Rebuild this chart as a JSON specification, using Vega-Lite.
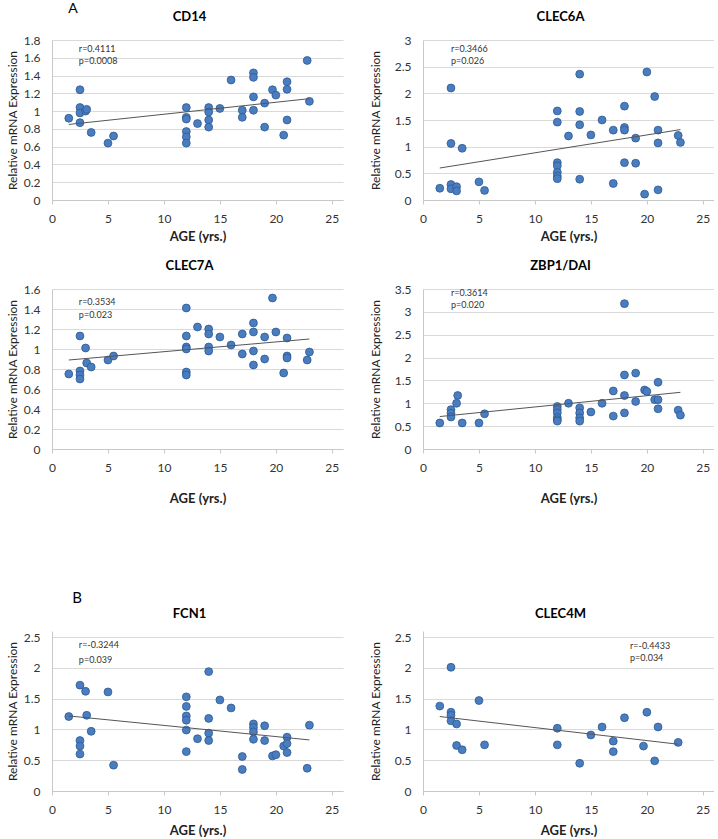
{
  "$schema": "https://vega.github.io/schema/vega-lite/v6.json",
  "padding": {"left": 6, "top": 2, "right": 0, "bottom": 0},
  "background": "white",
  "datasets": {
    "pts": [
      {"gene":"CD14","age":1.5,"expr":0.92},{"gene":"CD14","age":2.5,"expr":1.24},{"gene":"CD14","age":2.5,"expr":1.04},{"gene":"CD14","age":2.5,"expr":0.98},{"gene":"CD14","age":2.5,"expr":0.87},{"gene":"CD14","age":3,"expr":1.0},{"gene":"CD14","age":3.1,"expr":1.02},{"gene":"CD14","age":3.5,"expr":0.76},{"gene":"CD14","age":5,"expr":0.64},{"gene":"CD14","age":5.5,"expr":0.72},
      {"gene":"CD14","age":12,"expr":1.04},{"gene":"CD14","age":12,"expr":0.93},{"gene":"CD14","age":12,"expr":0.91},{"gene":"CD14","age":12,"expr":0.77},{"gene":"CD14","age":12,"expr":0.71},{"gene":"CD14","age":12,"expr":0.64},{"gene":"CD14","age":13,"expr":0.86},{"gene":"CD14","age":14,"expr":1.04},{"gene":"CD14","age":14,"expr":0.99},{"gene":"CD14","age":14,"expr":0.9},{"gene":"CD14","age":14,"expr":0.82},{"gene":"CD14","age":15,"expr":1.03},{"gene":"CD14","age":16,"expr":1.35},{"gene":"CD14","age":17,"expr":1.01},{"gene":"CD14","age":17,"expr":0.93},{"gene":"CD14","age":18,"expr":1.43},{"gene":"CD14","age":18,"expr":1.38},{"gene":"CD14","age":18,"expr":1.16},{"gene":"CD14","age":18,"expr":1.01},{"gene":"CD14","age":19,"expr":1.09},{"gene":"CD14","age":19,"expr":0.82},{"gene":"CD14","age":19.7,"expr":1.24},{"gene":"CD14","age":20,"expr":1.18},{"gene":"CD14","age":20.7,"expr":0.73},{"gene":"CD14","age":21,"expr":1.33},{"gene":"CD14","age":21,"expr":1.245},{"gene":"CD14","age":21,"expr":0.9},{"gene":"CD14","age":22.8,"expr":1.57},{"gene":"CD14","age":23,"expr":1.11},

      {"gene":"CLEC6A","age":1.5,"expr":0.22},{"gene":"CLEC6A","age":2.5,"expr":2.1},{"gene":"CLEC6A","age":2.5,"expr":1.06},{"gene":"CLEC6A","age":2.5,"expr":0.29},{"gene":"CLEC6A","age":2.5,"expr":0.21},{"gene":"CLEC6A","age":3,"expr":0.25},{"gene":"CLEC6A","age":3,"expr":0.17},{"gene":"CLEC6A","age":3.5,"expr":0.97},{"gene":"CLEC6A","age":5,"expr":0.34},{"gene":"CLEC6A","age":5.5,"expr":0.18},
      {"gene":"CLEC6A","age":12,"expr":1.67},{"gene":"CLEC6A","age":12,"expr":1.46},{"gene":"CLEC6A","age":12,"expr":0.7},{"gene":"CLEC6A","age":12,"expr":0.64},{"gene":"CLEC6A","age":12,"expr":0.52},{"gene":"CLEC6A","age":12,"expr":0.45},{"gene":"CLEC6A","age":12,"expr":0.4},{"gene":"CLEC6A","age":13,"expr":1.2},{"gene":"CLEC6A","age":14,"expr":2.36},{"gene":"CLEC6A","age":14,"expr":1.66},{"gene":"CLEC6A","age":14,"expr":1.41},{"gene":"CLEC6A","age":14,"expr":0.39},{"gene":"CLEC6A","age":15,"expr":1.22},{"gene":"CLEC6A","age":16,"expr":1.5},{"gene":"CLEC6A","age":17,"expr":1.31},{"gene":"CLEC6A","age":17,"expr":0.31},{"gene":"CLEC6A","age":18,"expr":1.76},{"gene":"CLEC6A","age":18,"expr":1.36},{"gene":"CLEC6A","age":18,"expr":1.31},{"gene":"CLEC6A","age":18,"expr":0.7},{"gene":"CLEC6A","age":19,"expr":1.16},{"gene":"CLEC6A","age":19,"expr":0.69},{"gene":"CLEC6A","age":19.8,"expr":0.11},{"gene":"CLEC6A","age":20,"expr":2.4},{"gene":"CLEC6A","age":20.7,"expr":1.94},{"gene":"CLEC6A","age":21,"expr":1.31},{"gene":"CLEC6A","age":21,"expr":1.07},{"gene":"CLEC6A","age":21,"expr":0.19},{"gene":"CLEC6A","age":22.8,"expr":1.21},{"gene":"CLEC6A","age":23,"expr":1.08},

      {"gene":"CLEC7A","age":1.5,"expr":0.75},{"gene":"CLEC7A","age":2.5,"expr":1.13},{"gene":"CLEC7A","age":2.5,"expr":0.78},{"gene":"CLEC7A","age":2.5,"expr":0.74},{"gene":"CLEC7A","age":2.5,"expr":0.7},{"gene":"CLEC7A","age":3,"expr":1.01},{"gene":"CLEC7A","age":3.1,"expr":0.86},{"gene":"CLEC7A","age":3.5,"expr":0.82},{"gene":"CLEC7A","age":5,"expr":0.89},{"gene":"CLEC7A","age":5.5,"expr":0.93},
      {"gene":"CLEC7A","age":12,"expr":1.41},{"gene":"CLEC7A","age":12,"expr":1.13},{"gene":"CLEC7A","age":12,"expr":1.02},{"gene":"CLEC7A","age":12,"expr":1.0},{"gene":"CLEC7A","age":12,"expr":0.77},{"gene":"CLEC7A","age":12,"expr":0.74},{"gene":"CLEC7A","age":13,"expr":1.22},{"gene":"CLEC7A","age":14,"expr":1.2},{"gene":"CLEC7A","age":14,"expr":1.15},{"gene":"CLEC7A","age":14,"expr":1.02},{"gene":"CLEC7A","age":14,"expr":0.98},{"gene":"CLEC7A","age":15,"expr":1.12},{"gene":"CLEC7A","age":16,"expr":1.04},{"gene":"CLEC7A","age":17,"expr":1.15},{"gene":"CLEC7A","age":17,"expr":0.95},{"gene":"CLEC7A","age":18,"expr":1.26},{"gene":"CLEC7A","age":18,"expr":1.17},{"gene":"CLEC7A","age":18,"expr":0.98},{"gene":"CLEC7A","age":18,"expr":0.84},{"gene":"CLEC7A","age":19,"expr":1.12},{"gene":"CLEC7A","age":19,"expr":0.9},{"gene":"CLEC7A","age":19.7,"expr":1.51},{"gene":"CLEC7A","age":20,"expr":1.17},{"gene":"CLEC7A","age":20.7,"expr":0.76},{"gene":"CLEC7A","age":21,"expr":1.11},{"gene":"CLEC7A","age":21,"expr":0.93},{"gene":"CLEC7A","age":21,"expr":0.91},{"gene":"CLEC7A","age":22.8,"expr":0.89},{"gene":"CLEC7A","age":23,"expr":0.97},

      {"gene":"ZBP1/DAI","age":1.5,"expr":0.57},{"gene":"ZBP1/DAI","age":2.5,"expr":0.86},{"gene":"ZBP1/DAI","age":2.5,"expr":0.78},{"gene":"ZBP1/DAI","age":2.5,"expr":0.7},{"gene":"ZBP1/DAI","age":3,"expr":1.0},{"gene":"ZBP1/DAI","age":3.1,"expr":1.17},{"gene":"ZBP1/DAI","age":3.5,"expr":0.57},{"gene":"ZBP1/DAI","age":5,"expr":0.57},{"gene":"ZBP1/DAI","age":5.5,"expr":0.77},
      {"gene":"ZBP1/DAI","age":12,"expr":0.93},{"gene":"ZBP1/DAI","age":12,"expr":0.86},{"gene":"ZBP1/DAI","age":12,"expr":0.79},{"gene":"ZBP1/DAI","age":12,"expr":0.69},{"gene":"ZBP1/DAI","age":12,"expr":0.64},{"gene":"ZBP1/DAI","age":12,"expr":0.61},{"gene":"ZBP1/DAI","age":13,"expr":1.0},{"gene":"ZBP1/DAI","age":14,"expr":0.9},{"gene":"ZBP1/DAI","age":14,"expr":0.79},{"gene":"ZBP1/DAI","age":14,"expr":0.68},{"gene":"ZBP1/DAI","age":14,"expr":0.61},{"gene":"ZBP1/DAI","age":15,"expr":0.81},{"gene":"ZBP1/DAI","age":16,"expr":1.0},{"gene":"ZBP1/DAI","age":17,"expr":1.27},{"gene":"ZBP1/DAI","age":17,"expr":0.72},{"gene":"ZBP1/DAI","age":18,"expr":3.18},{"gene":"ZBP1/DAI","age":18,"expr":1.62},{"gene":"ZBP1/DAI","age":18,"expr":1.17},{"gene":"ZBP1/DAI","age":18,"expr":0.79},{"gene":"ZBP1/DAI","age":19,"expr":1.66},{"gene":"ZBP1/DAI","age":19,"expr":1.04},{"gene":"ZBP1/DAI","age":19.8,"expr":1.29},{"gene":"ZBP1/DAI","age":20,"expr":1.26},{"gene":"ZBP1/DAI","age":20.7,"expr":1.08},{"gene":"ZBP1/DAI","age":21,"expr":1.46},{"gene":"ZBP1/DAI","age":21,"expr":1.08},{"gene":"ZBP1/DAI","age":21,"expr":0.88},{"gene":"ZBP1/DAI","age":22.8,"expr":0.85},{"gene":"ZBP1/DAI","age":23,"expr":0.74},

      {"gene":"FCN1","age":1.5,"expr":1.21},{"gene":"FCN1","age":2.5,"expr":1.72},{"gene":"FCN1","age":2.5,"expr":0.82},{"gene":"FCN1","age":2.5,"expr":0.73},{"gene":"FCN1","age":2.5,"expr":0.6},{"gene":"FCN1","age":3,"expr":1.62},{"gene":"FCN1","age":3.1,"expr":1.23},{"gene":"FCN1","age":3.5,"expr":0.97},{"gene":"FCN1","age":5,"expr":1.61},{"gene":"FCN1","age":5.5,"expr":0.42},
      {"gene":"FCN1","age":12,"expr":1.53},{"gene":"FCN1","age":12,"expr":1.375},{"gene":"FCN1","age":12,"expr":1.22},{"gene":"FCN1","age":12,"expr":1.15},{"gene":"FCN1","age":12,"expr":0.99},{"gene":"FCN1","age":12,"expr":0.64},{"gene":"FCN1","age":13,"expr":0.85},{"gene":"FCN1","age":14,"expr":1.94},{"gene":"FCN1","age":14,"expr":1.18},{"gene":"FCN1","age":14,"expr":0.94},{"gene":"FCN1","age":14,"expr":0.82},{"gene":"FCN1","age":15,"expr":1.48},{"gene":"FCN1","age":16,"expr":1.35},{"gene":"FCN1","age":17,"expr":0.56},{"gene":"FCN1","age":17,"expr":0.35},{"gene":"FCN1","age":18,"expr":1.09},{"gene":"FCN1","age":18,"expr":1.03},{"gene":"FCN1","age":18,"expr":0.96},{"gene":"FCN1","age":18,"expr":0.84},{"gene":"FCN1","age":19,"expr":1.06},{"gene":"FCN1","age":19,"expr":0.82},{"gene":"FCN1","age":19.7,"expr":0.57},{"gene":"FCN1","age":20,"expr":0.59},{"gene":"FCN1","age":20.7,"expr":0.73},{"gene":"FCN1","age":21,"expr":0.875},{"gene":"FCN1","age":21,"expr":0.77},{"gene":"FCN1","age":21,"expr":0.625},{"gene":"FCN1","age":22.8,"expr":0.37},{"gene":"FCN1","age":23,"expr":1.07},

      {"gene":"CLEC4M","age":1.5,"expr":1.38},{"gene":"CLEC4M","age":2.5,"expr":2.01},{"gene":"CLEC4M","age":2.5,"expr":1.28},{"gene":"CLEC4M","age":2.5,"expr":1.23},{"gene":"CLEC4M","age":2.5,"expr":1.14},{"gene":"CLEC4M","age":3,"expr":1.09},{"gene":"CLEC4M","age":3,"expr":0.74},{"gene":"CLEC4M","age":3.5,"expr":0.67},{"gene":"CLEC4M","age":5,"expr":1.47},{"gene":"CLEC4M","age":5.5,"expr":0.75},
      {"gene":"CLEC4M","age":12,"expr":1.02},{"gene":"CLEC4M","age":12,"expr":0.75},{"gene":"CLEC4M","age":14,"expr":0.45},{"gene":"CLEC4M","age":15,"expr":0.91},{"gene":"CLEC4M","age":16,"expr":1.04},{"gene":"CLEC4M","age":17,"expr":0.81},{"gene":"CLEC4M","age":17,"expr":0.64},{"gene":"CLEC4M","age":18,"expr":1.19},{"gene":"CLEC4M","age":19.7,"expr":0.73},{"gene":"CLEC4M","age":20,"expr":1.28},{"gene":"CLEC4M","age":20.7,"expr":0.49},{"gene":"CLEC4M","age":21,"expr":1.04},{"gene":"CLEC4M","age":22.8,"expr":0.79}
    ],
    "trend": [
      {"gene":"CD14","age":1.5,"expr":0.85},{"gene":"CD14","age":23,"expr":1.14},
      {"gene":"CLEC6A","age":1.5,"expr":0.6},{"gene":"CLEC6A","age":23,"expr":1.32},
      {"gene":"CLEC7A","age":1.5,"expr":0.89},{"gene":"CLEC7A","age":23,"expr":1.1},
      {"gene":"ZBP1/DAI","age":1.5,"expr":0.71},{"gene":"ZBP1/DAI","age":23,"expr":1.24},
      {"gene":"FCN1","age":1.5,"expr":1.22},{"gene":"FCN1","age":23,"expr":0.83},
      {"gene":"CLEC4M","age":1.5,"expr":1.21},{"gene":"CLEC4M","age":22.8,"expr":0.76}
    ],
    "stats": [
      {"gene":"CD14","r":"r=0.4111","p":"p=0.0008"},
      {"gene":"CLEC6A","r":"r=0.3466","p":"p=0.026"},
      {"gene":"CLEC7A","r":"r=0.3534","p":"p=0.023"},
      {"gene":"ZBP1/DAI","r":"r=0.3614","p":"p=0.020"},
      {"gene":"FCN1","r":"r=-0.3244","p":"p=0.039"},
      {"gene":"CLEC4M","r":"r=-0.4433","p":"p=0.034"}
    ]
  },
  "config": {
    "font": "Lato",
    "view": {"stroke": null},
    "axis": {"labelFont": "Lato", "labelFontSize": 12, "labelColor": "#333333", "titleFont": "Lato", "titleColor": "#222222", "gridColor": "#d9d9d9", "domainColor": "#c8c8c8", "tickColor": "#c8c8c8", "labelFlush": false, "labelOverlap": false},
    "axisX": {"grid": false, "tickSize": 4, "labelPadding": 9, "titleFontSize": 13, "titleFontWeight": "bold", "titlePadding": 6},
    "axisY": {"grid": true, "ticks": false, "labelPadding": 12, "titleFontSize": 12, "titleFontWeight": "normal", "titlePadding": 4, "tickCount": 20, "labelExpr": "'' + datum.value"},
    "title": {"fontSize": 13, "fontWeight": "bold", "font": "Lato", "color": "#000000", "offset": 10, "dx": -8}
  },
  "spacing": 86,
  "vconcat": [
    {
      "title": {"text": "A", "anchor": "start", "fontSize": 14, "fontWeight": "normal", "dx": 62, "offset": -5},
      "spacing": 17,
      "vconcat": [
        {
          "spacing": 26,
          "hconcat": [
            {
              "width": 291, "height": 160,
              "title": "CD14",
              "layer": [
                {"data": {"name": "pts"}, "transform": [{"filter": "datum.gene === 'CD14'"}], "mark": {"type": "circle", "size": 62, "fill": "#4a7cc0", "stroke": "#2c5a92", "strokeWidth": 0.8, "opacity": 1},
                 "encoding": {
                  "x": {"field": "age", "type": "quantitative", "scale": {"domain": [0, 25]}, "axis": {"title": "AGE (yrs.)", "values": [0,5,10,15,20,25]}},
                  "y": {"field": "expr", "type": "quantitative", "scale": {"domain": [0, 1.8]}, "axis": {"title": "Relative mRNA Expression", "values": [0,0.2,0.4,0.6,0.8,1,1.2,1.4,1.6,1.8]}}
                 }},
                {"data": {"name": "trend"}, "transform": [{"filter": "datum.gene === 'CD14'"}], "mark": {"type": "line", "color": "#555555", "strokeWidth": 1},
                 "encoding": {"x": {"field": "age", "type": "quantitative"}, "y": {"field": "expr", "type": "quantitative"}}},
                {"data": {"name": "stats"}, "transform": [{"filter": "datum.gene === 'CD14'"}], "mark": {"type": "text", "align": "left", "baseline": "middle", "fontSize": 9, "color": "#333333"},
                 "encoding": {"x": {"datum": 2.4}, "y": {"datum": 1.7}, "text": {"field": "r"}}},
                {"data": {"name": "stats"}, "transform": [{"filter": "datum.gene === 'CD14'"}], "mark": {"type": "text", "align": "left", "baseline": "middle", "fontSize": 9, "color": "#333333", "dy": 12},
                 "encoding": {"x": {"datum": 2.4}, "y": {"datum": 1.7}, "text": {"field": "p"}}}
              ]
            },
            {
              "width": 291, "height": 160,
              "title": "CLEC6A",
              "layer": [
                {"data": {"name": "pts"}, "transform": [{"filter": "datum.gene === 'CLEC6A'"}], "mark": {"type": "circle", "size": 62, "fill": "#4a7cc0", "stroke": "#2c5a92", "strokeWidth": 0.8, "opacity": 1},
                 "encoding": {
                  "x": {"field": "age", "type": "quantitative", "scale": {"domain": [0, 25]}, "axis": {"title": "AGE (yrs.)", "values": [0,5,10,15,20,25]}},
                  "y": {"field": "expr", "type": "quantitative", "scale": {"domain": [0, 3]}, "axis": {"title": "Relative mRNA Expression", "values": [0,0.5,1,1.5,2,2.5,3], "titlePadding": 12}}
                 }},
                {"data": {"name": "trend"}, "transform": [{"filter": "datum.gene === 'CLEC6A'"}], "mark": {"type": "line", "color": "#555555", "strokeWidth": 1},
                 "encoding": {"x": {"field": "age", "type": "quantitative"}, "y": {"field": "expr", "type": "quantitative"}}},
                {"data": {"name": "stats"}, "transform": [{"filter": "datum.gene === 'CLEC6A'"}], "mark": {"type": "text", "align": "left", "baseline": "middle", "fontSize": 9, "color": "#333333"},
                 "encoding": {"x": {"datum": 2.5}, "y": {"datum": 2.83}, "text": {"field": "r"}}},
                {"data": {"name": "stats"}, "transform": [{"filter": "datum.gene === 'CLEC6A'"}], "mark": {"type": "text", "align": "left", "baseline": "middle", "fontSize": 9, "color": "#333333", "dy": 12},
                 "encoding": {"x": {"datum": 2.5}, "y": {"datum": 2.83}, "text": {"field": "p"}}}
              ]
            }
          ]
        },
        {
          "spacing": 26,
          "hconcat": [
            {
              "width": 291, "height": 160,
              "title": "CLEC7A",
              "layer": [
                {"data": {"name": "pts"}, "transform": [{"filter": "datum.gene === 'CLEC7A'"}], "mark": {"type": "circle", "size": 62, "fill": "#4a7cc0", "stroke": "#2c5a92", "strokeWidth": 0.8, "opacity": 1},
                 "encoding": {
                  "x": {"field": "age", "type": "quantitative", "scale": {"domain": [0, 25]}, "axis": {"title": "AGE (yrs.)", "values": [0,5,10,15,20,25], "titlePadding": 19}},
                  "y": {"field": "expr", "type": "quantitative", "scale": {"domain": [0, 1.6]}, "axis": {"title": "Relative mRNA Expression", "values": [0,0.2,0.4,0.6,0.8,1,1.2,1.4,1.6]}}
                 }},
                {"data": {"name": "trend"}, "transform": [{"filter": "datum.gene === 'CLEC7A'"}], "mark": {"type": "line", "color": "#555555", "strokeWidth": 1},
                 "encoding": {"x": {"field": "age", "type": "quantitative"}, "y": {"field": "expr", "type": "quantitative"}}},
                {"data": {"name": "stats"}, "transform": [{"filter": "datum.gene === 'CLEC7A'"}], "mark": {"type": "text", "align": "left", "baseline": "middle", "fontSize": 9, "color": "#333333"},
                 "encoding": {"x": {"datum": 2.4}, "y": {"datum": 1.47}, "text": {"field": "r"}}},
                {"data": {"name": "stats"}, "transform": [{"filter": "datum.gene === 'CLEC7A'"}], "mark": {"type": "text", "align": "left", "baseline": "middle", "fontSize": 9, "color": "#333333", "dy": 13},
                 "encoding": {"x": {"datum": 2.4}, "y": {"datum": 1.47}, "text": {"field": "p"}}}
              ]
            },
            {
              "width": 291, "height": 160,
              "title": "ZBP1/DAI",
              "layer": [
                {"data": {"name": "pts"}, "transform": [{"filter": "datum.gene === 'ZBP1/DAI'"}], "mark": {"type": "circle", "size": 62, "fill": "#4a7cc0", "stroke": "#2c5a92", "strokeWidth": 0.8, "opacity": 1},
                 "encoding": {
                  "x": {"field": "age", "type": "quantitative", "scale": {"domain": [0, 25]}, "axis": {"title": "AGE (yrs.)", "values": [0,5,10,15,20,25], "titlePadding": 19}},
                  "y": {"field": "expr", "type": "quantitative", "scale": {"domain": [0, 3.5]}, "axis": {"title": "Relative mRNA Expression", "values": [0,0.5,1,1.5,2,2.5,3,3.5], "titlePadding": 12}}
                 }},
                {"data": {"name": "trend"}, "transform": [{"filter": "datum.gene === 'ZBP1/DAI'"}], "mark": {"type": "line", "color": "#555555", "strokeWidth": 1},
                 "encoding": {"x": {"field": "age", "type": "quantitative"}, "y": {"field": "expr", "type": "quantitative"}}},
                {"data": {"name": "stats"}, "transform": [{"filter": "datum.gene === 'ZBP1/DAI'"}], "mark": {"type": "text", "align": "left", "baseline": "middle", "fontSize": 9, "color": "#333333"},
                 "encoding": {"x": {"datum": 2.5}, "y": {"datum": 3.41}, "text": {"field": "r"}}},
                {"data": {"name": "stats"}, "transform": [{"filter": "datum.gene === 'ZBP1/DAI'"}], "mark": {"type": "text", "align": "left", "baseline": "middle", "fontSize": 9, "color": "#333333", "dy": 12},
                 "encoding": {"x": {"datum": 2.5}, "y": {"datum": 3.41}, "text": {"field": "p"}}}
              ]
            }
          ]
        }
      ]
    },
    {
      "title": {"text": "B", "anchor": "start", "fontSize": 15, "fontWeight": "normal", "dx": 66, "offset": 2},
      "spacing": 26,
      "hconcat": [
        {
          "width": 291, "height": 160,
          "title": "FCN1",
          "layer": [
            {"data": {"name": "pts"}, "transform": [{"filter": "datum.gene === 'FCN1'"}], "mark": {"type": "circle", "size": 62, "fill": "#4a7cc0", "stroke": "#2c5a92", "strokeWidth": 0.8, "opacity": 1},
             "encoding": {
              "x": {"field": "age", "type": "quantitative", "scale": {"domain": [0, 25]}, "axis": {"title": "AGE (yrs.)", "values": [0,5,10,15,20,25], "titlePadding": 9}},
              "y": {"field": "expr", "type": "quantitative", "scale": {"domain": [0, 2.5]}, "axis": {"title": "Relative mRNA Expression", "values": [0,0.5,1,1.5,2,2.5]}}
             }},
            {"data": {"name": "trend"}, "transform": [{"filter": "datum.gene === 'FCN1'"}], "mark": {"type": "line", "color": "#555555", "strokeWidth": 1},
             "encoding": {"x": {"field": "age", "type": "quantitative"}, "y": {"field": "expr", "type": "quantitative"}}},
            {"data": {"name": "stats"}, "transform": [{"filter": "datum.gene === 'FCN1'"}], "mark": {"type": "text", "align": "left", "baseline": "middle", "fontSize": 9, "color": "#333333"},
             "encoding": {"x": {"datum": 2.4}, "y": {"datum": 2.375}, "text": {"field": "r"}}},
            {"data": {"name": "stats"}, "transform": [{"filter": "datum.gene === 'FCN1'"}], "mark": {"type": "text", "align": "left", "baseline": "middle", "fontSize": 9, "color": "#333333", "dy": 15},
             "encoding": {"x": {"datum": 2.4}, "y": {"datum": 2.375}, "text": {"field": "p"}}}
          ]
        },
        {
          "width": 291, "height": 160,
          "title": "CLEC4M",
          "layer": [
            {"data": {"name": "pts"}, "transform": [{"filter": "datum.gene === 'CLEC4M'"}], "mark": {"type": "circle", "size": 62, "fill": "#4a7cc0", "stroke": "#2c5a92", "strokeWidth": 0.8, "opacity": 1},
             "encoding": {
              "x": {"field": "age", "type": "quantitative", "scale": {"domain": [0, 25]}, "axis": {"title": "AGE (yrs.)", "values": [0,5,10,15,20,25], "titlePadding": 9}},
              "y": {"field": "expr", "type": "quantitative", "scale": {"domain": [0, 2.5]}, "axis": {"title": "Relative mRNA Expression", "values": [0,0.5,1,1.5,2,2.5], "titlePadding": 12}}
             }},
            {"data": {"name": "trend"}, "transform": [{"filter": "datum.gene === 'CLEC4M'"}], "mark": {"type": "line", "color": "#555555", "strokeWidth": 1},
             "encoding": {"x": {"field": "age", "type": "quantitative"}, "y": {"field": "expr", "type": "quantitative"}}},
            {"data": {"name": "stats"}, "transform": [{"filter": "datum.gene === 'CLEC4M'"}], "mark": {"type": "text", "align": "left", "baseline": "middle", "fontSize": 9, "color": "#333333"},
             "encoding": {"x": {"datum": 18.5}, "y": {"datum": 2.36}, "text": {"field": "r"}}},
            {"data": {"name": "stats"}, "transform": [{"filter": "datum.gene === 'CLEC4M'"}], "mark": {"type": "text", "align": "left", "baseline": "middle", "fontSize": 9, "color": "#333333", "dy": 12},
             "encoding": {"x": {"datum": 18.5}, "y": {"datum": 2.36}, "text": {"field": "p"}}}
          ]
        }
      ]
    }
  ]
}
